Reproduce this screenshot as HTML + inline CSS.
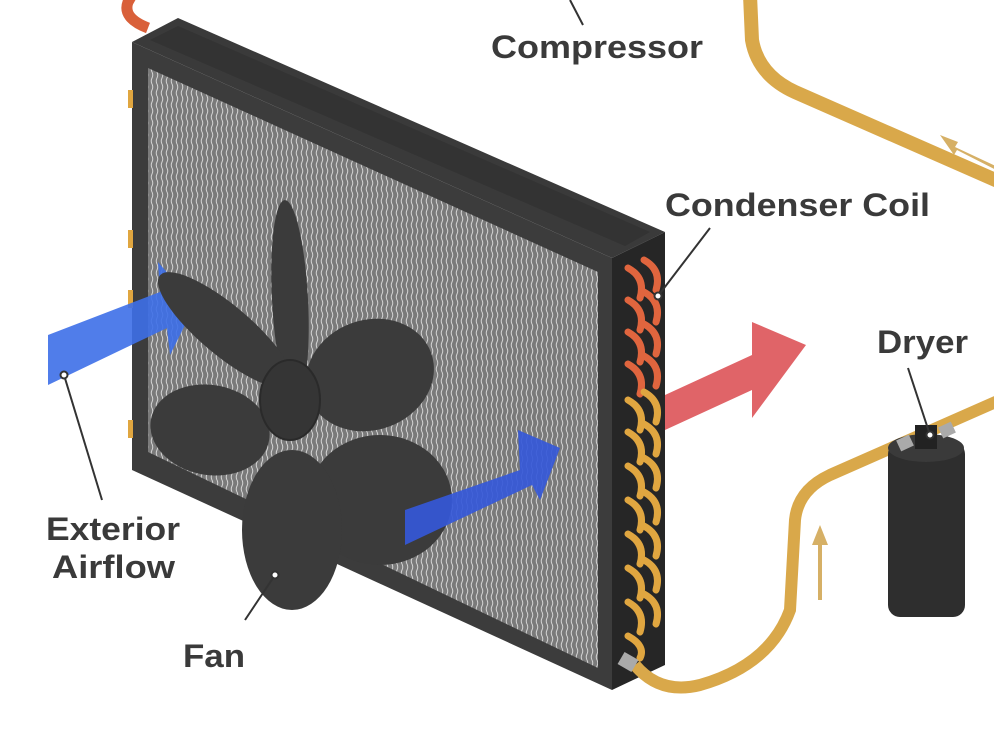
<!DOCTYPE html>
<html><head><meta charset="utf-8"><style>html,body{margin:0;padding:0;background:#fff;}svg{display:block}</style></head>
<body>
<svg width="994" height="746" viewBox="0 0 994 746" xmlns="http://www.w3.org/2000/svg">
<defs>
<pattern id="fins" width="5" height="12" patternUnits="userSpaceOnUse">
<rect width="5" height="12" fill="#7a7a7a"/>
<path d="M2 0 Q3.5 3 2 6 Q0.5 9 2 12" stroke="#d4d4d4" stroke-width="1" fill="none"/>
</pattern>
</defs>
<path d="M148 28 Q122 18 128 2 L132 -5" stroke="#d9603a" stroke-width="11" fill="none"/>
<polygon points="132,42 178,18 665,232 612,258" fill="#3a3a3a"/>
<polygon points="150,40 178,26 650,232 625,246" fill="#333"/>
<polygon points="132,42 612,258 612,690 132,470" fill="#3c3c3c"/>
<polygon points="148,68 598,272 598,668 148,452" fill="url(#fins)"/>
<polygon points="612,258 665,232 665,665 612,690" fill="#262626"/>
<g fill="none" stroke-width="7" stroke-linecap="round">
<g stroke="#e0653e">
<path d="M628 268 q18 10 12 30"/><path d="M644 260 q18 10 12 30"/>
<path d="M628 300 q18 10 12 30"/><path d="M644 292 q18 10 12 30"/>
<path d="M628 332 q18 10 12 30"/><path d="M644 324 q18 10 12 30"/>
<path d="M628 364 q18 10 12 30"/><path d="M644 356 q18 10 12 30"/>
</g>
<g stroke="#e0a640">
<path d="M628 400 q18 10 12 30"/><path d="M644 392 q18 10 12 30"/>
<path d="M628 432 q18 10 12 30"/><path d="M644 424 q18 10 12 30"/>
<path d="M628 466 q18 10 12 30"/><path d="M644 458 q18 10 12 30"/>
<path d="M628 500 q18 10 12 30"/><path d="M644 492 q18 10 12 30"/>
<path d="M628 534 q18 10 12 30"/><path d="M644 526 q18 10 12 30"/>
<path d="M628 568 q18 10 12 30"/><path d="M644 560 q18 10 12 30"/>
<path d="M628 602 q18 10 12 30"/><path d="M644 594 q18 10 12 30"/>
<path d="M628 636 q18 10 12 22"/>
</g>
</g>
<g fill="#e0a640"><rect x="128" y="90" width="5" height="18"/><rect x="128" y="230" width="5" height="18" /><rect x="128" y="290" width="5" height="18"/><rect x="128" y="420" width="5" height="18"/></g>
<polygon points="48,335 160,292 158,262 195,305 170,355 167,328 48,385" fill="#3d6fe8" opacity="0.9"/>
<g fill="#3b3b3b">
<ellipse cx="290" cy="300" rx="18" ry="100" transform="rotate(-3 290 300)"/>
<ellipse cx="225" cy="330" rx="85" ry="25" transform="rotate(40 225 330)"/>
<ellipse cx="370" cy="375" rx="65" ry="55" transform="rotate(-20 370 375)"/>
<ellipse cx="210" cy="430" rx="60" ry="45" transform="rotate(10 210 430)"/>
<ellipse cx="380" cy="500" rx="72" ry="65"/>
<ellipse cx="292" cy="530" rx="50" ry="80"/>
<ellipse cx="290" cy="400" rx="30" ry="40" fill="#353535" stroke="#2a2a2a" stroke-width="2"/>
</g>
<polygon points="405,510 520,470 518,430 560,448 540,500 532,485 405,545" fill="#3558d8" opacity="0.92"/>
<polygon points="665,395 752,355 752,322 806,345 752,418 752,390 665,430" fill="#e06468"/>
<path d="M750 -5 L752 40 Q758 75 795 92 L1000 182" stroke="#d9a84a" stroke-width="14" fill="none"/>
<path d="M635 665 Q660 695 700 685 Q770 665 790 610 L795 520 Q798 490 830 475 L1000 400" stroke="#d9a84a" stroke-width="12" fill="none"/>
<rect x="620" y="655" width="16" height="14" fill="#aaa" transform="rotate(30 628 662)"/>
<polygon points="1000,168 955,147 958,142 940,135 954,155 957,150 1000,172" fill="#d6b066"/>
<path d="M820 600 L820 540" stroke="#d6b066" stroke-width="4"/>
<polygon points="812,545 820,525 828,545" fill="#d6b066"/>
<rect x="888" y="442" width="77" height="175" rx="12" fill="#2e2e2e"/>
<ellipse cx="926" cy="448" rx="38" ry="14" fill="#3a3a3a"/>
<rect x="915" y="425" width="22" height="24" fill="#222"/>
<rect x="898" y="437" width="14" height="12" fill="#aaa" transform="rotate(-25 905 443)"/>
<rect x="940" y="424" width="14" height="12" fill="#aaa" transform="rotate(-25 947 430)"/>
<g stroke="#333" stroke-width="2" fill="none">
<line x1="570" y1="0" x2="583" y2="25"/>
<line x1="710" y1="228" x2="658" y2="296"/>
<line x1="908" y1="368" x2="930" y2="435"/>
<line x1="64" y1="375" x2="102" y2="500"/>
<line x1="275" y1="575" x2="245" y2="620"/>
</g>
<g fill="#fff" stroke="#333" stroke-width="2"><circle cx="658" cy="296" r="3.5"/><circle cx="930" cy="435" r="3.5"/><circle cx="64" cy="375" r="3.5"/><circle cx="275" cy="575" r="3.5"/></g>
<g font-family="Liberation Sans, sans-serif" font-weight="bold" fill="#3a3a3a" font-size="32">
<text x="491" y="58" textLength="212" lengthAdjust="spacingAndGlyphs">Compressor</text>
<text x="665" y="216" textLength="265" lengthAdjust="spacingAndGlyphs">Condenser Coil</text>
<text x="877" y="353" textLength="91" lengthAdjust="spacingAndGlyphs">Dryer</text>
<text x="46" y="540" textLength="134" lengthAdjust="spacingAndGlyphs">Exterior</text>
<text x="52" y="578" textLength="123" lengthAdjust="spacingAndGlyphs">Airflow</text>
<text x="183" y="667" textLength="62" lengthAdjust="spacingAndGlyphs">Fan</text>
</g>
</svg>
</body></html>
